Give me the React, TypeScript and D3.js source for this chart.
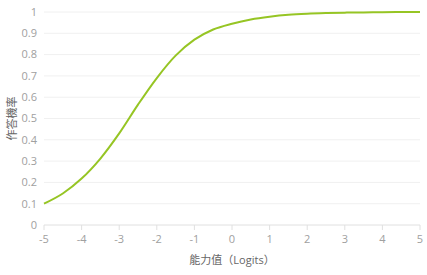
import React from 'react';
import * as d3 from 'd3';

// ability (logits) and probability of answering
const abilities = [-5, -4.5, -4, -3.5, -3, -2.5, -2, -1.5, -1, -0.5, 0, 0.5, 1, 1.5, 2, 2.5, 3, 3.5, 4, 4.5, 5];
const probs = [0.1, 0.148, 0.218, 0.312, 0.43, 0.565, 0.69, 0.795, 0.87, 0.918, 0.945, 0.965, 0.978, 0.987, 0.992, 0.995, 0.997, 0.998, 0.999, 1, 1];
const xTicks = [-5, -4, -3, -2, -1, 0, 1, 2, 3, 4, 5];
const yTicks = [0, 0.1, 0.2, 0.3, 0.4, 0.5, 0.6, 0.7, 0.8, 0.9, 1];
const xTitle = '能力值（Logits）';
const yTitle = '作答機率';

export default function App() {
  const width = 427;
  const height = 275;
  const margin = { left: 44, right: 7, top: 12, bottom: 50 };

  const x = d3.scaleLinear().domain([-5, 5]).range([margin.left, width - margin.right]);
  const y = d3.scaleLinear().domain([0, 1]).range([height - margin.bottom, margin.top]);

  const line = d3.line<number>()
    .x((d, i) => x(abilities[i]))
    .y(d => y(d))
    .curve(d3.curveCatmullRom.alpha(0.5));

  const font = '"Open Sans", "Noto Sans CJK TC", sans-serif';
  const labelColor = '#a0a0a0';

  return (
    <svg width={width} height={height} style={{ position: 'absolute', left: 0, top: 0 }}>
      <rect width={width} height={height} fill="#fff" />
      {yTicks.map(t => (
        <g key={t}>
          {t > 0 && (
            <line x1={x(-5)} x2={x(5)} y1={y(t)} y2={y(t)} stroke="#f0f0f0" strokeWidth={1} />
          )}
          <text x={37} y={y(t)} dy="0.35em" textAnchor="end" fontSize={11}
                fontFamily={font} fill={labelColor}>{t}</text>
        </g>
      ))}
      <line x1={x(-5)} x2={x(5)} y1={y(0)} y2={y(0)} stroke="#e0e0e0" strokeWidth={1} />
      {xTicks.map(t => (
        <g key={t}>
          <line x1={x(t)} x2={x(t)} y1={y(0)} y2={y(0) + 5} stroke="#e0e0e0" strokeWidth={1} />
          <text x={x(t)} y={243} textAnchor="middle" fontSize={11}
                fontFamily={font} fill={labelColor}>{t}</text>
        </g>
      ))}
      <path d={line(probs) || ''} fill="none" stroke="#96c524" strokeWidth={2} />
      <text x={x(0)} y={264} textAnchor="middle" fontSize={11}
            fontFamily={font} fill="#666">{xTitle}</text>
      <text transform={`translate(12,${(y(0) + y(1)) / 2}) rotate(-90)`} dy="0.35em"
            textAnchor="middle" fontSize={11} fontFamily={font} fill="#666">{yTitle}</text>
    </svg>
  );
}
